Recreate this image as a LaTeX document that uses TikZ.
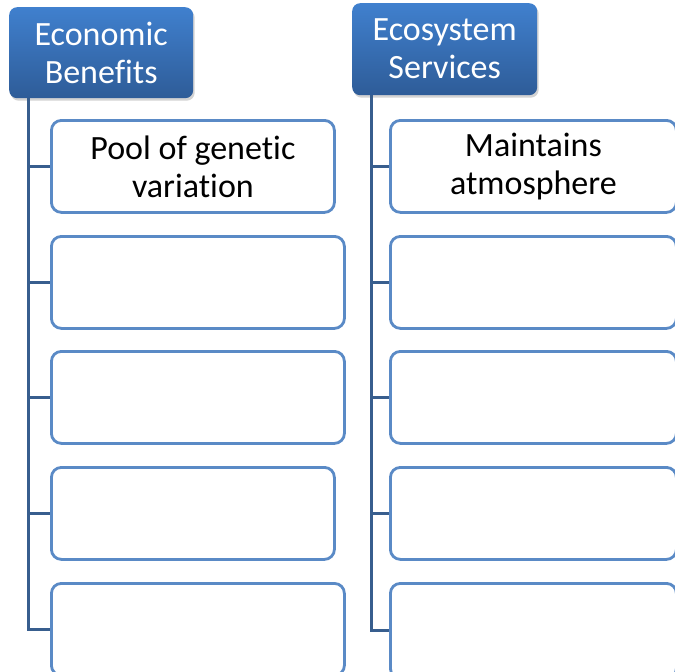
\documentclass[tikz,border=0pt]{standalone}
\usepackage{fontspec}
\setmainfont[Ligatures={NoCommon}]{Carlito}
\usetikzlibrary{shadows}

\definecolor{headtop}{RGB}{64,128,206}
\definecolor{headbot}{RGB}{46,92,152}
\definecolor{leafline}{RGB}{90,138,198}
\definecolor{trunkline}{RGB}{56,94,142}

\begin{document}
\begin{tikzpicture}[x=1pt,y=1pt]
% Styles
\tikzset{
    header/.style={rounded corners=8pt, top color=headtop, bottom color=headbot,
        draw=none, text=white, align=center, anchor=north west, inner sep=0pt,
        font=\fontsize{34}{38}\selectfont,
        drop shadow={opacity=0.35, shadow xshift=1.5pt, shadow yshift=-2.5pt}},
    leaf/.style={rounded corners=10pt, draw=leafline, line width=2.8pt, fill=white,
        align=center, anchor=north west, inner sep=0pt, minimum height=92pt,
        font=\fontsize{34}{38}\selectfont},
    branch/.style={draw=trunkline, line width=3pt}
}
\useasboundingbox (0,0) rectangle (675,-672);
\clip (0,0) rectangle (675,-672);

% Nodes
\node[header, minimum width=184pt, minimum height=91pt] (EB) at (9,-7) {Economic\\Benefits};
\node[header, minimum width=185pt, minimum height=92pt] (ES) at (352,-3) {Ecosystem\\Services};

\node[leaf, minimum width=283pt] (EB1) at (50,-119) {Pool of genetic\\variation};
\node[leaf, minimum width=293pt] (EB2) at (50,-235) {};
\node[leaf, minimum width=293pt] (EB3) at (50,-350) {};
\node[leaf, minimum width=283pt] (EB4) at (50,-466) {};
\node[leaf, minimum width=293pt] (EB5) at (50,-582) {};

\node[leaf, minimum width=286pt] (ES1) at (389,-119) {Maintains\\atmosphere};
\node[leaf, minimum width=286pt] (ES2) at (389,-235) {};
\node[leaf, minimum width=286pt] (ES3) at (389,-350) {};
\node[leaf, minimum width=286pt] (ES4) at (389,-466) {};
\node[leaf, minimum width=286pt, minimum height=95pt] (ES5) at (389,-582) {};

\coordinate (EBroot) at (28,-98);
\coordinate (ESroot) at (371,-95);

% Connections
\draw[branch] (EBroot) |- (EB5.west);
\draw[branch] (EBroot |- EB1.west) -- (EB1.west);
\draw[branch] (EBroot |- EB2.west) -- (EB2.west);
\draw[branch] (EBroot |- EB3.west) -- (EB3.west);
\draw[branch] (EBroot |- EB4.west) -- (EB4.west);

\draw[branch] (ESroot) |- (ES5.west);
\draw[branch] (ESroot |- ES1.west) -- (ES1.west);
\draw[branch] (ESroot |- ES2.west) -- (ES2.west);
\draw[branch] (ESroot |- ES3.west) -- (ES3.west);
\draw[branch] (ESroot |- ES4.west) -- (ES4.west);
\end{tikzpicture}
\end{document}
